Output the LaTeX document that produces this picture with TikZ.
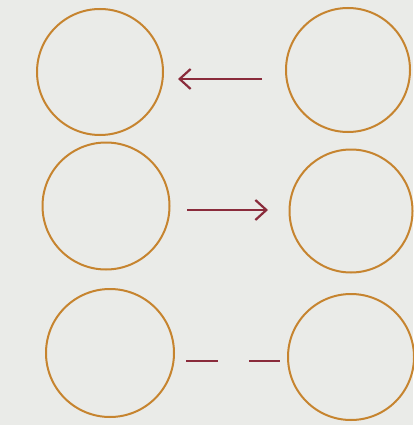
\documentclass[tikz,border=0pt]{standalone}
\usetikzlibrary{arrows.meta}
\definecolor{bg}{HTML}{EAEBE8}
\definecolor{ring}{HTML}{C6842F}
\definecolor{link}{HTML}{8A2B3B}
\begin{document}
\begin{tikzpicture}[x=1pt,y=-1pt,
  ring/.style={circle,draw=ring,line width=2pt,inner sep=0pt,minimum size=#1},
  link/.style={draw=link,line width=2.6pt},
  tip/.style={-{Straight Barb[length=11pt,width=20pt,line width=2.2pt]}}]
\fill[bg] (0,0) rectangle (413,425);
\useasboundingbox (0,0) rectangle (413,425);
% row 1
\node[ring=126pt] (a1) at (100,72) {};
\node[ring=124pt] (b1) at (348,70) {};
\coordinate (s1) at (262,79);
\coordinate (e1) at (178,79);
\draw[link,tip] (s1) -- (e1);
% row 2
\node[ring=127pt] (a2) at (106,206) {};
\node[ring=123pt] (b2) at (351,211) {};
\coordinate (s2) at (187,210);
\coordinate (e2) at (268,210);
\draw[link,tip] (s2) -- (e2);
% row 3
\node[ring=128pt] (a3) at (110,353) {};
\node[ring=126pt] (b3) at (351,357) {};
\coordinate (d1) at (186,361);
\coordinate (d2) at (218,361);
\coordinate (d3) at (249,361);
\coordinate (d4) at (280,361);
\draw[link] (d1) -- (d2);
\draw[link] (d3) -- (d4);
\end{tikzpicture}
\end{document}
